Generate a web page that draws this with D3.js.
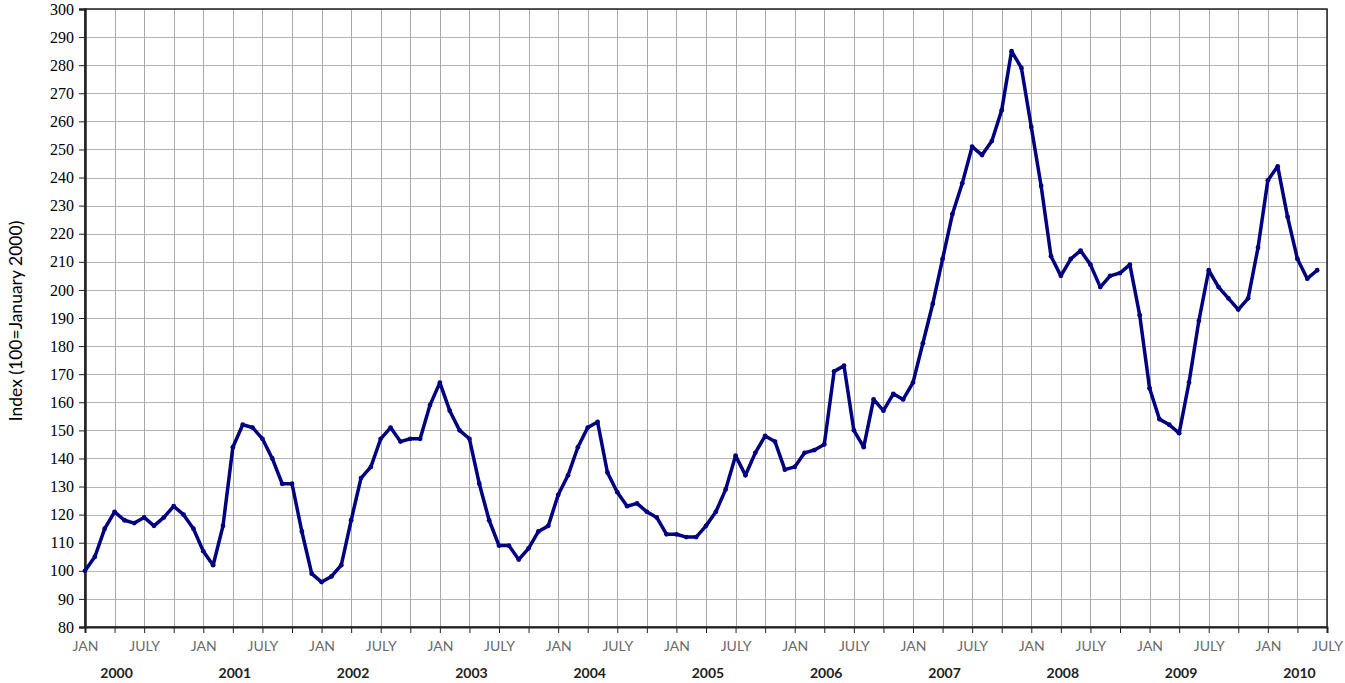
<!DOCTYPE html>
<html>
<head>
<meta charset="utf-8">
<script src="https://cdn.jsdelivr.net/npm/d3@7"></script>
<style>
  body { margin: 0; background: #fff; }
  svg { display: block; }
</style>
</head>
<body>
<svg id="chart" width="1345" height="683"></svg>
<script>
// monthly index, Jan 2000 .. Jun 2010 (100 = January 2000)
const startYear = 2000;
const years = [2000, 2001, 2002, 2003, 2004, 2005, 2006, 2007, 2008, 2009, 2010];
const monthNames = ['JAN', 'JULY'];
const indexValues = [
  100, 105, 115, 121, 118, 117, 119, 116, 119, 123, 120, 115,
  107, 102, 116, 144, 152, 151, 147, 140, 131, 131, 114, 99,
  96, 98, 102, 118, 133, 137, 147, 151, 146, 147, 147, 159,
  167, 157, 150, 147, 131, 118, 109, 109, 104, 108, 114, 116,
  127, 134, 144, 151, 153, 135, 128, 123, 124, 121, 119, 113,
  113, 112, 112, 116, 121, 129, 141, 134, 142, 148, 146, 136,
  137, 142, 143, 145, 171, 173, 150, 144, 161, 157, 163, 161,
  167, 181, 195, 211, 227, 238, 251, 248, 253, 264, 285, 279,
  258, 237, 212, 205, 211, 214, 209, 201, 205, 206, 209, 191,
  165, 154, 152, 149, 167, 189, 207, 201, 197, 193, 197, 215,
  239, 244, 226, 211, 204, 207
];
const yTicks = d3.range(80, 301, 10);

const svg = d3.select('#chart');
const margin = { left: 85, right: 18, top: 9, bottom: 56 };
const width = 1345;
const height = 683;

const x = d3.scaleLinear()
  .domain([0, 126])
  .range([margin.left, width - margin.right]);

const y = d3.scaleLinear()
  .domain([80, 300])
  .range([height - margin.bottom, margin.top]);

const monthTicks = d3.range(0, 127, 3);

// grid
svg.append('g')
  .selectAll('line')
  .data(yTicks)
  .enter()
  .append('line')
  .attr('x1', x(0))
  .attr('x2', x(126))
  .attr('y1', d => Math.round(y(d)) + 0.5)
  .attr('y2', d => Math.round(y(d)) + 0.5)
  .attr('stroke', '#b4b4b4')
  .attr('stroke-width', 1);

svg.append('g')
  .selectAll('line')
  .data(monthTicks)
  .enter()
  .append('line')
  .attr('x1', d => Math.round(x(d)) + 0.5)
  .attr('x2', d => Math.round(x(d)) + 0.5)
  .attr('y1', y(80))
  .attr('y2', y(300))
  .attr('stroke', '#a8a8a8')
  .attr('stroke-width', 1);

// frame
svg.append('rect')
  .attr('x', x(0))
  .attr('y', y(300))
  .attr('width', x(126) - x(0))
  .attr('height', y(80) - y(300))
  .attr('fill', 'none')
  .attr('stroke', '#222')
  .attr('stroke-width', 1.5);

// y axis
const yAxis = svg.append('g')
  .attr('transform', `translate(${x(0)},0)`)
  .call(d3.axisLeft(y).tickValues(yTicks).tickSize(6).tickPadding(5).tickFormat(d3.format('d')));
yAxis.select('.domain').attr('stroke', '#222').attr('stroke-width', 2.5);
yAxis.selectAll('.tick line').attr('stroke', '#222');
yAxis.selectAll('text')
  .attr('font-family', '"Liberation Serif", "Times New Roman", serif')
  .attr('font-size', 16)
  .attr('fill', '#000');

// x axis
const xAxis = svg.append('g')
  .attr('transform', `translate(0,${y(80)})`)
  .call(d3.axisBottom(x).tickValues(monthTicks).tickSize(6)
    .tickFormat(d => d % 6 === 0 ? monthNames[(d / 6) % 2] : ''));
xAxis.select('.domain').attr('stroke', '#222').attr('stroke-width', 2);
xAxis.selectAll('.tick line').attr('stroke', '#222');
xAxis.selectAll('text')
  .attr('font-family', 'Lato, "Open Sans", sans-serif')
  .attr('font-size', 14)
  .attr('fill', '#6a6a6a')
  .attr('dy', '1.05em');

// year labels
svg.append('g')
  .selectAll('text')
  .data(years)
  .enter()
  .append('text')
  .attr('x', d => x((d - startYear) * 12 + 3.2))
  .attr('y', 678)
  .attr('text-anchor', 'middle')
  .attr('font-family', 'Lato, "Open Sans", sans-serif')
  .attr('font-weight', 'bold')
  .attr('font-size', 14)
  .attr('fill', '#222')
  .text(d => d);

// y title
svg.append('text')
  .attr('transform', `translate(22,${(y(80) + y(300)) / 2 + 3}) rotate(-90)`)
  .attr('text-anchor', 'middle')
  .attr('font-family', 'Lato, "Open Sans", sans-serif')
  .attr('font-size', 17.5)
  .attr('fill', '#000')
  .text('Index (100=January 2000)');

// series
const line = d3.line()
  .x((d, i) => x(i))
  .y(d => y(d));

svg.append('path')
  .datum(indexValues)
  .attr('d', line)
  .attr('fill', 'none')
  .attr('stroke', '#000080')
  .attr('stroke-width', 3.5)
  .attr('stroke-linejoin', 'round');

svg.append('g')
  .selectAll('circle')
  .data(indexValues)
  .enter()
  .append('circle')
  .attr('cx', (d, i) => x(i))
  .attr('cy', d => y(d))
  .attr('r', 2.4)
  .attr('fill', '#000080');
</script>
</body>
</html>
